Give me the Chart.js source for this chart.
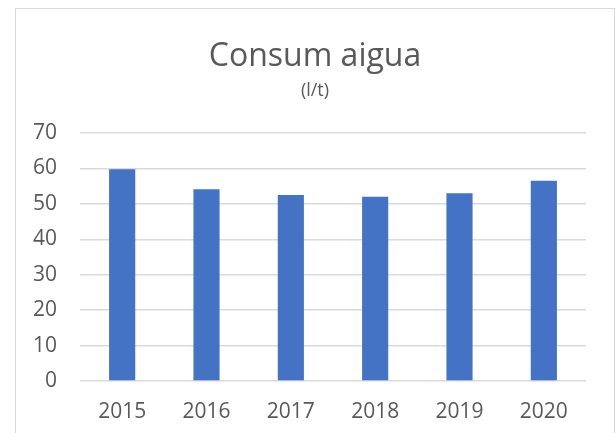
<!DOCTYPE html>
<html>
<head>
<meta charset="utf-8">
<script src="https://cdn.jsdelivr.net/npm/chart.js@4"></script>
<style>
	html, body { margin: 0; padding: 0; background: #fff; overflow: hidden; }
	#frame {
		position: absolute;
		left: 15px;
		top: 8px;
		width: 598px;
		height: 440px;
		border: 1px solid #d9d9d9;
	}
	#wrap { position: absolute; left: 0; top: 0; width: 598px; height: 424px; }
</style>
</head>
<body>
<div id="frame"><div id="wrap"><canvas id="consum-chart"></canvas></div></div>
<script>
const years = ["2015", "2016", "2017", "2018", "2019", "2020"];
const consum = [59.8, 54.1, 52.5, 52.0, 53.0, 56.5];
const yTicks = [0, 10, 20, 30, 40, 50, 60, 70];

const textColor = "#595959";
const gridColor = "#d9d9d9";

new Chart(document.getElementById("consum-chart"), {
	type: "bar",
	data: {
		labels: years,
		datasets: [{
			label: "Consum aigua",
			data: consum,
			backgroundColor: "#4472C4",
			borderWidth: 0,
			barPercentage: 0.31,
			categoryPercentage: 1,
		}],
	},
	options: {
		responsive: true,
		maintainAspectRatio: false,
		animation: false,
		layout: { padding: 0 },
		plugins: {
			legend: { display: false },
			tooltip: { enabled: false },
			title: {
				display: true,
				text: "Consum aigua",
				color: textColor,
				font: { family: "'Open Sans'", size: 32, weight: "normal" },
				padding: { top: 29, bottom: 0 },
			},
			subtitle: {
				display: true,
				text: "(l/t)",
				color: textColor,
				font: { family: "'Open Sans'", size: 18, weight: "normal" },
				padding: { top: 4, bottom: 31 },
			},
		},
		scales: {
			x: {
				grid: { display: false, drawTicks: false },
				border: { display: false },
				ticks: {
					color: textColor,
					font: { family: "'Open Sans'", size: 21 },
					padding: 18,
					maxRotation: 0,
				},
				afterFit: (scale) => { scale.height = 52; },
			},
			y: {
				min: 0,
				max: 70,
				afterBuildTicks: (scale) => { scale.ticks = yTicks.map((v) => ({ value: v })); },
				grid: { color: gridColor, lineWidth: 1.5, drawTicks: false },
				border: { display: false },
				ticks: {
					color: textColor,
					font: { family: "'Open Sans'", size: 21 },
					padding: 23,
				},
				afterFit: (scale) => { scale.width = 64; },
			},
			// empty right-hand axis, only keeps the gap on the right so the title stays centred
			spacer: {
				type: "linear",
				position: "right",
				grid: { display: false, drawTicks: false },
				border: { display: false },
				ticks: { display: false },
				afterFit: (scale) => { scale.width = 28; },
			},
		},
	},
});
</script>
</body>
</html>
